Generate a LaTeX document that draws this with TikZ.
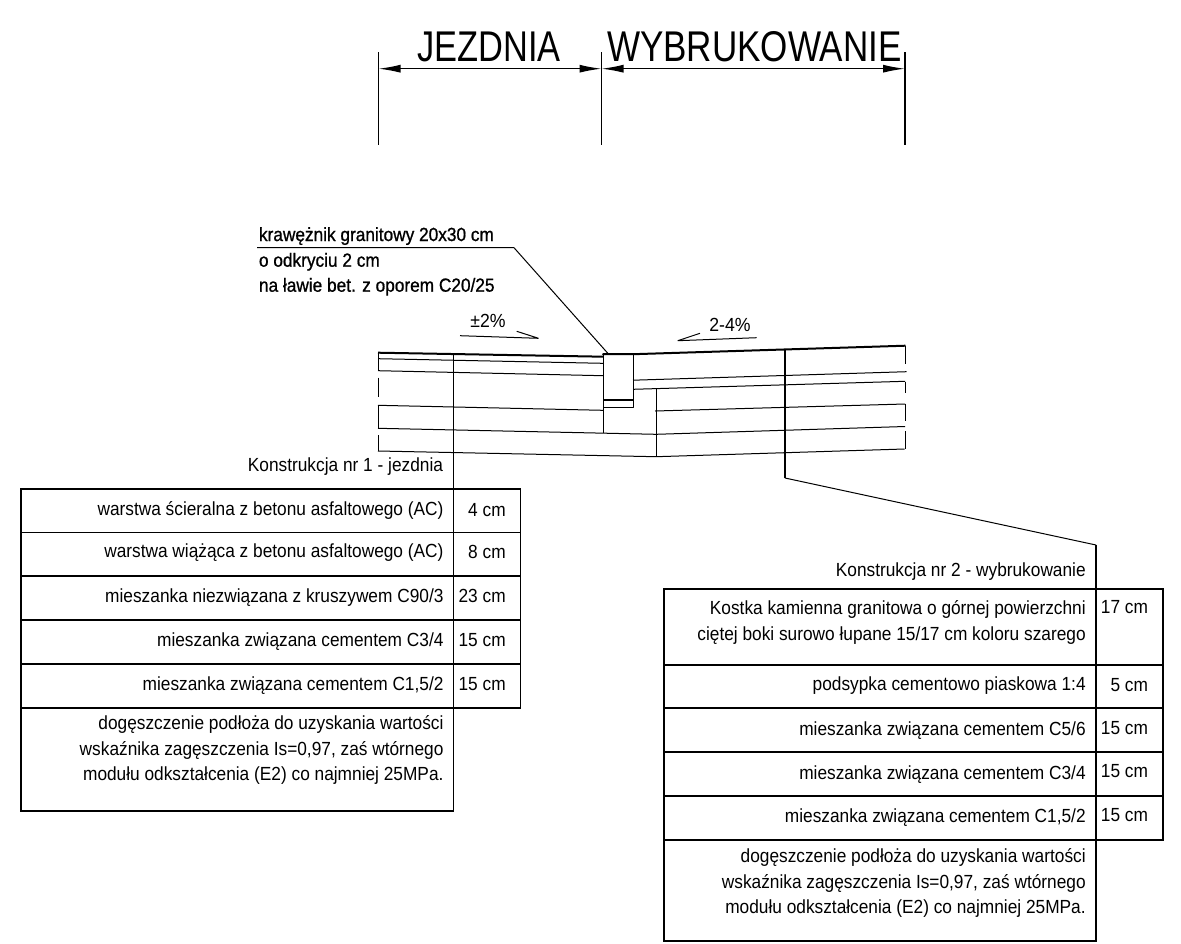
\documentclass[tikz,border=0pt]{standalone}
\usepackage{fontspec}
\usepackage{graphicx}
\setmainfont{Liberation Sans}
\newfontfamily\boldish[FakeBold=1]{Liberation Sans}
\usetikzlibrary{arrows.meta}
\newcommand{\bodyf}[1]{\scalebox{.91}[1]{\fontsize{19}{21}\selectfont #1}}
\newcommand{\slopef}[1]{\scalebox{.93}[1]{\fontsize{19}{21}\selectfont #1}}
\newcommand{\boldf}[1]{\scalebox{.908}[1]{\fontsize{19}{21}\boldish\selectfont #1}}
\newcommand{\headf}[2][.8]{\scalebox{#1}[1]{\fontsize{43}{48}\selectfont #2}}
\tikzset{
  thinl/.style={line width=1pt,black,line join=bevel},
  midl/.style={line width=1.6pt,black},
  thickl/.style={line width=2pt,black},
  tbl/.style={line width=1.8pt,black},
  txt/.style={inner sep=0pt,outer sep=0pt,anchor=base east},
  txtw/.style={inner sep=0pt,outer sep=0pt,anchor=base west},
  dimarrow/.style={line width=1.3pt,{Latex[length=22pt,width=8pt]}-{Latex[length=22pt,width=8pt]}}
}
\begin{document}
\begin{tikzpicture}[x=1pt,y=-1pt]
\useasboundingbox (0,0) rectangle (1181,943);
% dimension header
\coordinate (d1t) at (378.5,52); \coordinate (d1b) at (378.5,145);
\coordinate (d2t) at (601.5,52); \coordinate (d2b) at (601.5,145);
\coordinate (d3t) at (905,52);   \coordinate (d3b) at (905,145);
\draw[midl] (d1t)--(d1b); \draw[midl] (d2t)--(d2b); \draw[midl] (d3t)--(d3b);
\coordinate (a1) at (378.5,68.7); \coordinate (a2) at (601.5,68.7); \coordinate (a3) at (905,68.7);
\draw[dimarrow] (a1)--(a2);
\draw[dimarrow] (a2)--(a3);
\node[txtw] (hj) at (417.5,61) {\headf{JEZDNIA}};
\node[txtw] (hw) at (607,61) {\headf[.815]{WYBRUKOWANIE}};
% curb label
\coordinate (l1) at (257,247.7); \coordinate (l2) at (514,247.7); \coordinate (l3) at (608,353.5);
\draw[thinl] (l1)--(l2)--(l3);
\node[txtw] (k1) at (259,241) {\boldf{krawężnik granitowy 20x30 cm}};
\node[txtw] (k2) at (259,266.7) {\boldf{o odkryciu 2 cm}};
\node[txtw] (k3) at (259,291.7) {\boldf{na ławie bet. z oporem C20/25}};
% slopes
\node[inner sep=0pt,anchor=base] (s1) at (488,327) {\slopef{±2\%}};
\node[inner sep=0pt,anchor=base] (s2) at (730,331) {\slopef{2-4\%}};
\coordinate (s1a) at (460,335.7); \coordinate (s1b) at (538.5,338.3); \coordinate (s1c) at (516.7,331.3);
\draw[thinl] (s1a)--(s1b)--(s1c);
\coordinate (s2a) at (756.7,337.7); \coordinate (s2b) at (677.7,340.7); \coordinate (s2c) at (700,333.3);
\draw[thinl] (s2a)--(s2b)--(s2c);
% road surface left
\draw[thickl] (378,352.7)--(603.5,356.7);
\draw[thickl] (603,355)--(603.5,354)--(633,354.2)--(905.5,345.7);
% layers left
\draw[thinl] (378,358.7)--(603,363.3);
\draw[thinl] (378,370.7)--(603,375.7);
\draw[thinl] (378,405.3)--(603,410.3);
\draw[thinl] (378,428.3)--(656,434.3)--(905,426.5);
\draw[thinl] (378,451)--(656,456.7)--(904.5,449);
% layers right
\draw[thinl] (633,380.2)--(906.5,371.7);
\draw[thinl] (633,389.3)--(905,381.3);
\draw[thinl] (655,411)--(905,404);
% left edge, broken
\draw[thinl] (378,352.7)--(378,370.7);
\draw[thinl] (378,377.5)--(378,397);
\draw[thinl] (378,405.3)--(378,428.3);
\draw[thinl] (378,435)--(378,451);
% right edge, broken
\draw[thinl] (905,345.7)--(905,364.3);
\draw[thinl] (905,381.5)--(905,392.7);
\draw[thinl] (905,403.5)--(905,421);
\draw[thinl] (905,431)--(905,449);
% curb and bench
\draw[thinl] (603,354)--(603,433);
\draw[thinl] (633,354)--(633,407)--(603,407);
\draw[thickl] (603,399.7)--(633,399.7);
\draw[thinl] (656,389)--(656,456.7);
% verticals to the tables
\coordinate (vl1) at (453.5,353.8); \coordinate (vl2) at (453.5,489);
\draw[midl] (vl1)--(vl2);
\coordinate (vr1) at (785,350); \coordinate (vr2) at (785,478);
\coordinate (vr3) at (1096,545); \coordinate (vr4) at (1096,589.3);
\draw[midl] (vr1)--(vr2);
\draw[thinl] (vr2)--(vr3);
\draw[midl] (vr3)--(vr4);
% table 1
\draw[tbl] (21,488.7) rectangle (520.5,707.7);
\draw[tbl] (21,707.7) rectangle (453.5,810.7);
\draw[tbl] (453.5,488.7)--(453.5,707.7);
\draw[tbl] (21,532.5)--(520.5,532.5);
\draw[tbl] (21,576.3)--(520.5,576.3);
\draw[tbl] (21,620)--(520.5,620);
\draw[tbl] (21,664)--(520.5,664);
\node[txt] (t1h) at (443,471.3) {\bodyf{Konstrukcja nr 1 - jezdnia}};
\node[txt] (t1a) at (443.5,515.7) {\bodyf{warstwa ścieralna z betonu asfaltowego (AC)}};
\node[txt] (t1b) at (443.5,557.3) {\bodyf{warstwa wiążąca z betonu asfaltowego (AC)}};
\node[txt] (t1c) at (443.5,602.7) {\bodyf{mieszanka niezwiązana z kruszywem C90/3}};
\node[txt] (t1d) at (443.5,646.7) {\bodyf{mieszanka związana cementem C3/4}};
\node[txt] (t1e) at (443.5,690) {\bodyf{mieszanka związana cementem C1,5/2}};
\node[txt] (t1f) at (443.5,729.3) {\bodyf{dogęszczenie podłoża do uzyskania wartości}};
\node[txt] (t1g) at (443.5,755) {\bodyf{wskaźnika zagęszczenia Is=0,97, zaś wtórnego}};
\node[txt] (t1i) at (443.5,780.7) {\bodyf{modułu odkształcenia (E2) co najmniej 25MPa.}};
\node[txt] (c1a) at (505.7,516) {\bodyf{4 cm}};
\node[txt] (c1b) at (505.7,558.7) {\bodyf{8 cm}};
\node[txt] (c1c) at (505.7,602) {\bodyf{23 cm}};
\node[txt] (c1d) at (505.7,646) {\bodyf{15 cm}};
\node[txt] (c1e) at (505.7,690) {\bodyf{15 cm}};
% table 2
\draw[tbl] (664,589.3) rectangle (1162.7,839.7);
\draw[tbl] (664,839.7) rectangle (1096,941);
\draw[tbl] (1096,589.3)--(1096,839.7);
\draw[tbl] (664,664.7)--(1162.7,664.7);
\draw[tbl] (664,708.3)--(1162.7,708.3);
\draw[tbl] (664,752)--(1162.7,752);
\draw[tbl] (664,796)--(1162.7,796);
\node[txt] (t2h) at (1085.7,576) {\bodyf{Konstrukcja nr 2 - wybrukowanie}};
\node[txt] (t2a) at (1085.7,614) {\bodyf{Kostka kamienna granitowa o górnej powierzchni}};
\node[txt] (t2b) at (1085.7,640) {\bodyf{ciętej boki surowo łupane 15/17 cm koloru szarego}};
\node[txt] (t2c) at (1085.7,690) {\bodyf{podsypka cementowo piaskowa 1:4}};
\node[txt] (t2d) at (1085.7,735.7) {\bodyf{mieszanka związana cementem C5/6}};
\node[txt] (t2e) at (1085.7,779) {\bodyf{mieszanka związana cementem C3/4}};
\node[txt] (t2f) at (1085.7,822.7) {\bodyf{mieszanka związana cementem C1,5/2}};
\node[txt] (t2g) at (1085.7,862.3) {\bodyf{dogęszczenie podłoża do uzyskania wartości}};
\node[txt] (t2i) at (1085.7,888.3) {\bodyf{wskaźnika zagęszczenia Is=0,97, zaś wtórnego}};
\node[txt] (t2j) at (1085.7,913.3) {\bodyf{modułu odkształcenia (E2) co najmniej 25MPa.}};
\node[txt] (c2a) at (1148,613.5) {\bodyf{17 cm}};
\node[txt] (c2b) at (1148,691) {\bodyf{5 cm}};
\node[txt] (c2c) at (1148,734.7) {\bodyf{15 cm}};
\node[txt] (c2d) at (1148,777.7) {\bodyf{15 cm}};
\node[txt] (c2e) at (1148,821.7) {\bodyf{15 cm}};
\end{tikzpicture}
\end{document}
